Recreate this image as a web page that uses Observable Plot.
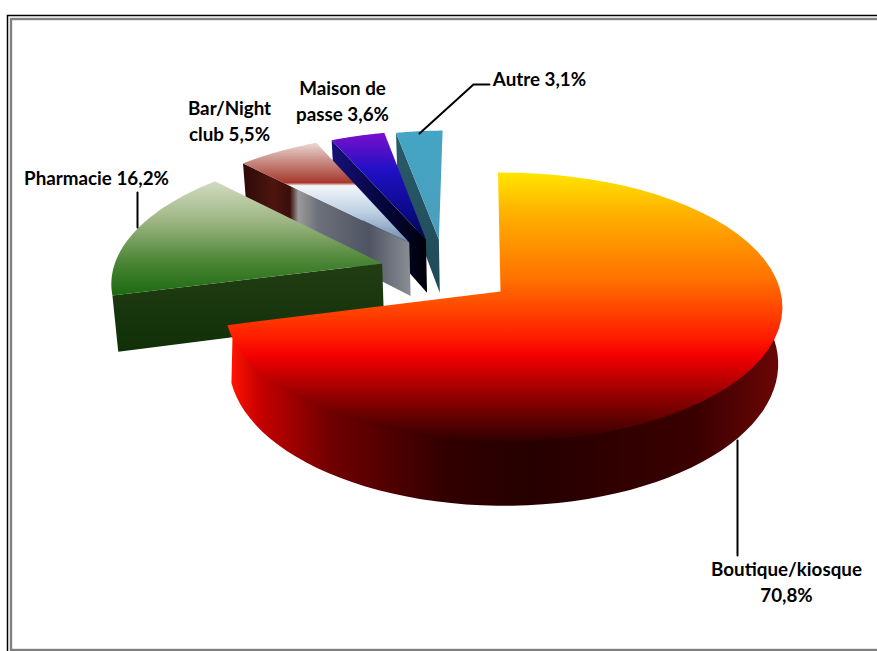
<!DOCTYPE html>
<html><head><meta charset="utf-8">
<style>html,body{margin:0;padding:0;background:#fff}svg{display:block}</style>
<script src="https://cdn.jsdelivr.net/npm/d3@7"></script>
<script src="https://cdn.jsdelivr.net/npm/@observablehq/plot@0.6"></script>
</head><body><script>
const categories = ["Boutique/kiosque","Pharmacie","Bar/Night club","Maison de passe","Autre"];
const values = [70.8,16.2,5.5,3.6,3.1];
const labelTexts = ["Boutique/kiosque\n70,8%","Pharmacie 16,2%","Bar/Night\nclub 5,5%","Maison de\npasse 3,6%","Autre 3,1%"];
// slice explosion on the disc (unit radius)
const explodeU = [0,-.438,-.344,-.282,-.233];
const explodeV = [0,.2166,.385,.41,.41];
const labelX = [786,96,229,342,539];
const labelY = [580,176,119,99,77];
const leaders = [
  [[737,440],[737,555]],
  [[137,192],[137,227]],
  [[489,84],[473,84],[419,133]]
];
const W=877,H=651,cx=500,cy=291,a=277,b=132.7,p=.1153,startDeg=-1.2,rimU=.011;
const total=d3.sum(values);
const proj=(u,v)=>{const d=1+p*v;return {x:cx+a*u/d,y:cy-b*v/d}};
const low=q=>({x:cx+(q.x-cx)*.985,y:q.y+56+(q.y-cy)*.055});
const rim=(i,t)=>{const r=t*Math.PI/180;return proj(Math.sin(r)+explodeU[i]+rimU,Math.cos(r)+explodeV[i])};
let acc=startDeg;
const angles=values.map(v=>{const s=acc;acc+=v/total*360;return [s,acc]});
const arc=(i,t0,t1)=>d3.range(0,61).map(k=>rim(i,t0+(t1-t0)*k/60));
const topFace=i=>[proj(explodeU[i],explodeV[i]),...arc(i,...angles[i])];
const wall=(i)=>{const e=rim(i,angles[i][0]),c=proj(explodeU[i],explodeV[i]);return [e,c,low(c),low(e)]};
const inner=q=>({x:cx+(q.x-cx)*.98,y:cy+(q.y-cy)*.98});
const sideBig=()=>{const r=arc(0,84,angles[0][1]);return [...r.map(inner),...r.map(low).reverse()]};
const poly=(pts,id)=>Plot.line(pts,{x:"x",y:"y",fill:`url(#${id})`,stroke:"none"});
const leaderMarks=leaders.map(l=>Plot.line(l,{x:d=>d[0],y:d=>d[1],stroke:"#000",strokeWidth:2}));
const svg=Plot.plot({width:W,height:H,margin:0,
  x:{domain:[0,W],range:[0,W],axis:null},y:{domain:[0,H],range:[0,H],axis:null},
  marks:[
    Plot.rect([0],{x1:()=>7.5,x2:()=>W+20,y1:()=>15.5,y2:()=>H+20,fill:"none",stroke:"#000",strokeWidth:1.5}),
    Plot.rect([0],{x1:()=>11,x2:()=>W+20,y1:()=>19,y2:()=>650,fill:"none",stroke:"#808080",strokeWidth:2.4}),
    poly(wall(4),"g4s"),poly(topFace(4),"g4"),
    poly(wall(3),"g3s"),poly(topFace(3),"g3"),
    poly(wall(2),"g2s"),poly(topFace(2),"g2"),
    poly(wall(1),"g1s"),poly(topFace(1),"g1"),
    poly(sideBig(),"g0s"),poly(topFace(0),"g0"),
    ...leaderMarks,
    Plot.text(labelTexts,{x:(d,i)=>labelX[i],y:(d,i)=>labelY[i],text:d=>d,
      fontFamily:"Lato",fontWeight:700,fontSize:18.8,lineHeight:1.38,fill:"#000"})
  ]});
const grads={
 g0:["v",[[0,"#ffe600"],[.14,"#ffb400"],[.4,"#ff7000"],[.62,"#ff1a00"],[.68,"#f40000"],[.85,"#880000"],[1,"#2e0000"]]],
 g0s:["h",[[0,"#ff1500"],[.05,"#c80000"],[.18,"#700000"],[.4,"#300000"],[.55,"#260000"],[.85,"#3a0000"],[1,"#6b0606"]]],
 g1:["v",[[0,"#d2dcc0"],[.35,"#9db583"],[.7,"#4c8636"],[1,"#1c6a10"]]],
 g1s:["v",[[0,"#223d14"],[1,"#103008"]]],
 g2:["v",[[0,"#ecd8d4"],[.18,"#c98d85"],[.4,"#a8382c"],[.43,"#f4f6fb"],[.7,"#bccfe2"],[1,"#6f8ab0"]]],
 g2s:["h",[[0,"#2c0a08"],[.18,"#4d1510"],[.28,"#3b0e0a"],[.33,"#9a9a9a"],[.45,"#6c707a"],[.75,"#4e5462"],[1,"#8a8e96"]]],
 g3:["v",[[0,"#7a10cc"],[.35,"#2010c4"],[.75,"#0a0a88"],[1,"#05054a"]]],
 g3s:["h",[[0,"#18107a"],[.5,"#060640"],[1,"#000008"]]],
 g4:["v",[[0,"#45a5c4"],[1,"#4a9ebc"]]],
 g4s:["v",[[0,"#2a5a68"],[1,"#1f4a58"]]]
};
const defs=d3.select(svg).insert("defs",":first-child");
for(const [id,[o,st]] of Object.entries(grads)){
  const g=defs.append("linearGradient").attr("id",id).attr("x1",0).attr("y1",0).attr("x2",o==="h"?1:0).attr("y2",o==="v"?1:0);
  st.forEach(([f,c])=>g.append("stop").attr("offset",f).attr("stop-color",c));
}
document.body.appendChild(svg);
</script></body></html>
